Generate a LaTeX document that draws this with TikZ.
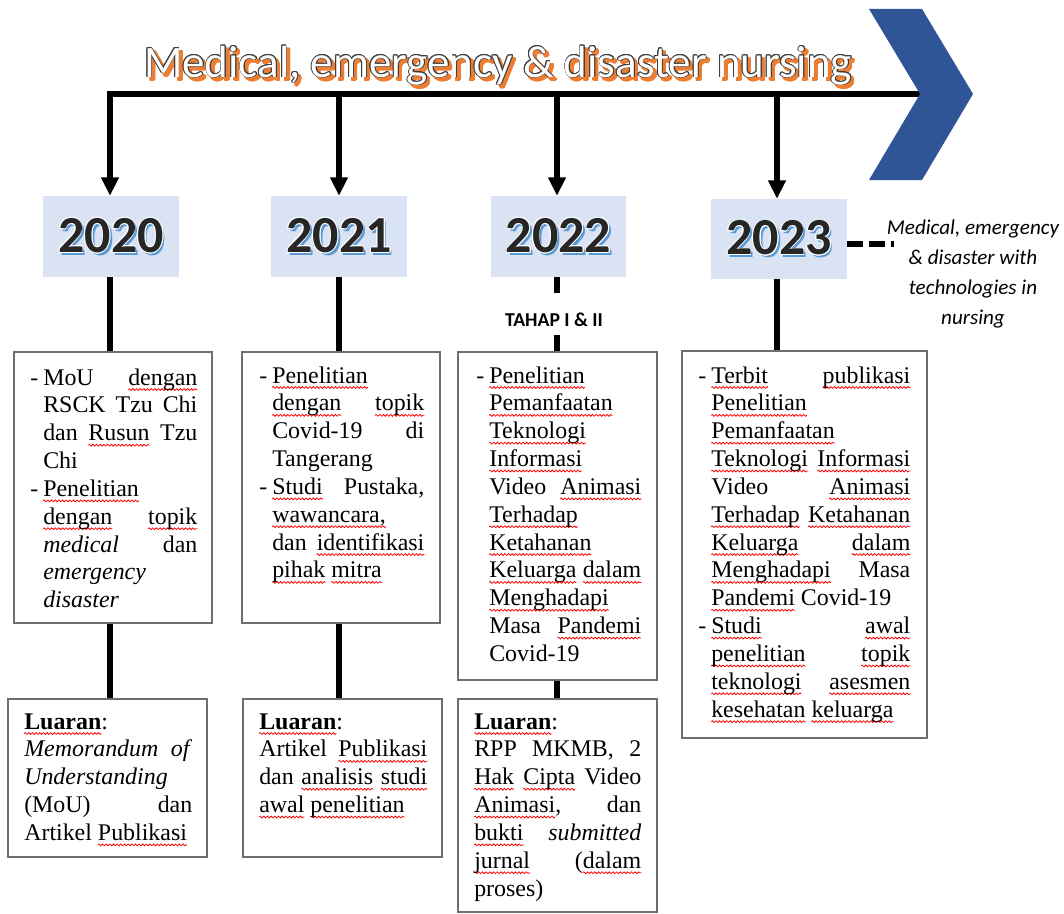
\documentclass[tikz,border=0pt]{standalone}
\usepackage{fontspec}
\setmainfont{Liberation Serif}
\newfontfamily\calibri{Carlito}
\usetikzlibrary{calc,arrows.meta,positioning,decorations.pathmorphing}

\definecolor{chevblue}{HTML}{2F5597}
\definecolor{yearfill}{HTML}{DAE3F3}
\definecolor{yeardark}{HTML}{262626}
\definecolor{yearshade}{HTML}{5B9BD5}
\definecolor{titleedge}{HTML}{404040}
\definecolor{titleshade}{HTML}{ED7D31}
\definecolor{framegray}{HTML}{6E6E6E}

\hyphenpenalty=10000
\exhyphenpenalty=10000
\tolerance=10000
\hbadness=10000

% red spell-check wave under a word
\newsavebox{\sqbox}
\newlength{\sqw}
\newcommand{\sq}[1]{\sbox{\sqbox}{#1}\setlength{\sqw}{\wd\sqbox}\leavevmode\rlap{\tikz[overlay,x=1pt,y=1pt]\draw[red,line width=0.55pt,decorate,decoration={zigzag,segment length=2.6pt,amplitude=0.65pt}] (0,-3.2) -- (\sqw,-3.2);}\usebox{\sqbox}}

% "- " items: dash lines full width, the rest hung
\newlength{\dashind}
\setlength{\dashind}{0.325cm}
\newcommand{\dsh}{\makebox[\dashind][l]{-}}
\newcommand{\fullln}{0pt \linewidth}
\newcommand{\hangln}{\dashind \dimexpr\linewidth-\dashind\relax}

% outline by copies: colour, radius in pt, text
\newcommand{\outl}[3]{%
  \foreach \ang in {0,30,...,330}{%
    \pgfmathsetmacro\dx{#2*cos(\ang)}\pgfmathsetmacro\dy{#2*sin(\ang)}%
    \rlap{\hspace{\dx pt}\raisebox{\dy pt}{\textcolor{#1}{#3}}}}%
  #3}
\newcommand{\yr}[1]{\rlap{\hspace{1.8pt}\raisebox{-1.8pt}{\textcolor{yearshade}{#1}}}\outl{white}{0.5}{#1}}
\newcommand{\ttl}[1]{\rlap{\hspace{2.3pt}\raisebox{-2.3pt}{\outl{titleshade}{0.7}{\textcolor{titleshade}{#1}}}}\outl{titleedge}{0.6}{#1}}

\begin{document}
\begin{tikzpicture}[x=0.025cm, y=-0.025cm,
    conn/.style={line width=3.9pt},
    arr/.style={line width=3.9pt, -{Triangle[width=12pt,length=13pt]}},
    dashline/.style={line width=4.2pt, dash pattern=on 11.4pt off 4.3pt},
    frame/.style={draw=framegray, line width=1pt, inner sep=0pt},
    yearbox/.style={fill=yearfill, inner sep=0pt, minimum width=3.4cm, minimum height=2.025cm, text=yeardark, font=\calibri\bfseries\fontsize{37pt}{37pt}\selectfont},
    txt/.style={anchor=base west, inner sep=0pt, align=justify, text width=#1, font=\fontsize{17pt}{19.8pt}\selectfont}]
    \useasboundingbox (0,0) rectangle (1064,913);

    % timeline
    \coordinate (t0) at (107,94);
    \coordinate (tip) at (920,94);
    \coordinate (t20) at (110,94);
    \coordinate (t21) at (339,94);
    \coordinate (t22) at (557,94);
    \coordinate (t23) at (777,94);
    \draw[line width=4.7pt] (t0) -- (tip);
    \fill[chevblue] (869,9) -- (922,9) -- (973,94) -- (922,180) -- (869,180) -- (tip) -- cycle;

    \node[text=white, anchor=base, font=\calibri\fontsize{32pt}{32pt}\selectfont] (title) at (498,77) {\ttl{Medical, emergency \& disaster nursing}};

    % years
    \node[yearbox] (y20) at (111,236.5) {\yr{2020}};
    \node[yearbox] (y21) at (339,236.5) {\yr{2021}};
    \node[yearbox, minimum width=3.375cm] (y22) at (558.5,236.5) {\yr{2022}};
    \node[yearbox, minimum height=2cm] (y23) at (779,239) {\yr{2023}};

    \draw[arr] (t20) -- (t20 |- y20.north);
    \draw[arr] (t21) -- (t21 |- y21.north);
    \draw[arr] (t22) -- (t22 |- y22.north);
    \draw[arr] (t23) -- (t23 |- y23.north);

    % activity boxes
    \node[frame, minimum width=4.95cm, minimum height=6.775cm] (a20) at (113,487.5) {};
    \node[frame, minimum width=4.95cm, minimum height=6.775cm] (a21) at (341,487.5) {};
    \node[frame, minimum width=4.975cm, minimum height=8.2cm] (a22) at (557.5,516) {};
    \node[frame, minimum width=6.125cm, minimum height=9.675cm] (a23) at (804.5,544.5) {};

    \node[txt=4.175cm] (a20t) at (30,385) {\parshape 6 \fullln\hangln\hangln\hangln\fullln\hangln
        \dsh MoU \sq{dengan}\linebreak RSCK Tzu Chi\linebreak dan \sq{Rusun} Tzu\linebreak Chi\newline
        \dsh\sq{Penelitian}\linebreak \sq{dengan} \sq{topik}\linebreak \textit{medical} dan\linebreak \textit{emergency}\linebreak \textit{disaster}\par};
    \node[txt=4.125cm] (a21t) at (259,383) {\parshape 6 \fullln\hangln\hangln\hangln\fullln\hangln
        \dsh\sq{Penelitian}\linebreak \sq{dengan} \sq{topik}\linebreak Covid-19 di\linebreak Tangerang\newline
        \dsh\sq{Studi} Pustaka,\linebreak \sq{wawancara,}\linebreak dan \sq{identifikasi}\linebreak \sq{pihak} \sq{mitra}\par};
    \node[txt=4.125cm] (a22t) at (476,383) {\parshape 2 \fullln\hangln
        \dsh\sq{Penelitian}\linebreak \sq{Pemanfaatan}\linebreak \sq{Teknologi}\linebreak \sq{Informasi}\linebreak Video \sq{Animasi}\linebreak \sq{Terhadap}\linebreak \sq{Ketahanan}\linebreak \sq{Keluarga} \sq{dalam}\linebreak \sq{Menghadapi}\linebreak Masa \sq{Pandemi}\linebreak Covid-19\par};
    \node[txt=5.3cm] (a23t) at (698,383) {\parshape 11 \fullln\hangln\hangln\hangln\hangln\hangln\hangln\hangln\hangln\fullln\hangln
        \dsh\sq{Terbit} \sq{publikasi}\linebreak \sq{Penelitian}\linebreak \sq{Pemanfaatan}\linebreak \sq{Teknologi} \sq{Informasi}\linebreak Video \sq{Animasi}\linebreak \sq{Terhadap} \sq{Ketahanan}\linebreak \sq{Keluarga} \sq{dalam}\linebreak \sq{Menghadapi} Masa\linebreak \sq{Pandemi} Covid-19\newline
        \dsh\sq{Studi} \sq{awal}\linebreak \sq{penelitian} \sq{topik}\linebreak \sq{teknologi} \sq{asesmen}\linebreak \sq{kesehatan} \sq{keluarga}\par};

    % output boxes
    \node[frame, minimum width=4.975cm, minimum height=3.95cm] (o20) at (107.5,778) {};
    \node[frame, minimum width=4.975cm, minimum height=3.95cm] (o21) at (342.5,778) {};
    \node[frame, minimum width=4.975cm, minimum height=5.325cm] (o22) at (557.5,805.5) {};

    \node[txt=4.2cm] (o20t) at (24,729) {\textbf{\sq{Luaran}}:\linebreak \textit{Memorandum of}\linebreak \textit{Understanding}\linebreak (MoU) dan\linebreak Artikel \sq{Publikasi}};
    \node[txt=4.2cm] (o21t) at (259,729) {\textbf{\sq{Luaran}}:\linebreak Artikel \sq{Publikasi}\linebreak dan \sq{analisis} \sq{studi}\linebreak \sq{awal} \sq{penelitian}};
    \node[txt=4.175cm] (o22t) at (474,729) {\textbf{\sq{Luaran}}:\linebreak RPP MKMB, 2\linebreak \sq{Hak} \sq{Cipta} Video\linebreak \sq{Animasi}, dan\linebreak \sq{bukti} \textit{submitted}\linebreak \sq{jurnal} (\sq{dalam}\linebreak proses)};

    % connectors
    \draw[conn] (t20 |- y20.south) -- (t20 |- a20.north);
    \draw[conn] (t20 |- a20.south) -- (t20 |- o20.north);
    \draw[conn] (t21 |- y21.south) -- (t21 |- a21.north);
    \draw[conn] (t21 |- a21.south) -- (t21 |- o21.north);
    \node[font=\calibri\bfseries\fontsize{14pt}{14pt}\selectfont, anchor=base] (tahap) at (554,326) {TAHAP I \& II};
    \coordinate (tahaptop) at (557,293);
    \coordinate (tahapbot) at (557,335);
    \draw[conn] (t22 |- y22.south) -- (tahaptop);
    \draw[conn] (tahapbot) -- (t22 |- a22.north);
    \draw[conn] (t22 |- a22.south) -- (t22 |- o22.north);
    \draw[conn] (t23 |- y23.south) -- (t23 |- a23.north);

    % next theme
    \coordinate (sideend) at (894,244);
    \draw[dashline] (y23.east |- sideend) -- (sideend);
    \node[align=center, font=\calibri\itshape\fontsize{15pt}{21.4pt}\selectfont] (side) at (973,274) {Medical, emergency\\ \& disaster with\\ technologies in\\ nursing};
\end{tikzpicture}
\end{document}
